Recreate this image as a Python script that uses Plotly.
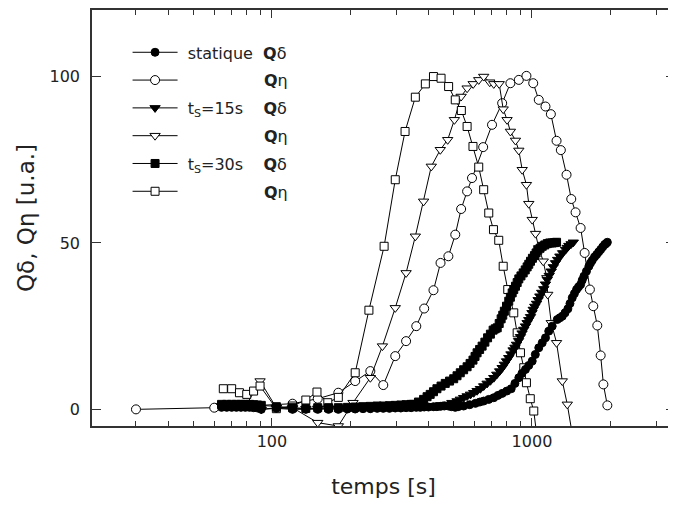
import plotly.graph_objects as go

# ---- statique ----
t_stat_d = [64, 67, 70, 73, 76, 79, 82, 85, 88, 91, 104, 120, 135, 150, 165, 180, 195, 209,
            224, 239, 254, 268, 283, 298, 313, 328, 343, 359, 372, 385, 400, 418, 431, 445,
            460, 477, 490, 507, 520, 546, 576, 606, 630, 652, 682, 713, 740, 768, 800, 832,
            860, 890, 915, 944, 972, 1002, 1030, 1062, 1095, 1127, 1160, 1196, 1251, 1280,
            1308, 1340, 1374, 1400, 1428, 1456, 1484, 1510, 1538, 1560, 1584, 1620, 1655,
            1680, 1706, 1740, 1773, 1805, 1837, 1870, 1903, 1925, 1949]
q_stat_d = [0.6, 0.6, 0.6, 0.6, 0.6, 0.6, 0.6, 0.5, 0.4, 0.0, 0.3, 0.0, 0.0, 0.0, 0.0, 0.0, 0.1, 0.1,
            0.2, 0.2, 0.3, 0.3, 0.3, 0.4, 0.4, 0.5, 0.5, 0.6, 0.6, 0.7, 0.7, 0.8, 0.8, 0.9,
            1.0, 1.0, 0.8, 0.6, 0.8, 1.0, 1.4, 1.8, 2.2, 2.5, 3.0, 3.5, 4.2, 4.8, 5.5, 6.2,
            7.8, 9.5, 10.8, 12.0, 13.2, 14.5, 16.5, 18.5, 20.0, 21.5, 23.5, 25.0, 27.0, 27.5,
            28.0, 29.0, 30.2, 31.8, 33.5, 34.8, 36.0, 36.8, 37.5, 38.8, 40.0, 41.5, 43.0,
            44.0, 44.8, 45.8, 46.5, 47.3, 48.0, 48.8, 49.5, 49.8, 50.2]

t_stat_e = [30, 60, 120, 150, 180, 209, 239, 268, 298, 328, 359, 385, 418, 445, 477, 507, 534,
            563, 588, 649, 702, 768, 826, 890, 952, 1011, 1062, 1127, 1182, 1243, 1291, 1358,
            1416, 1471, 1538, 1594, 1670, 1721, 1783, 1837, 1882, 1949]
q_stat_e = [0.0, 0.5, 1.7, 3.2, 5.0, 8.5, 11.5, 7.3, 16.0, 20.5, 25.0, 30.3, 35.8, 44.0, 46.0,
            52.5, 60.2, 65.5, 69.5, 78.8, 85.5, 92.0, 98.0, 99.0, 100.2, 98.0, 93.0, 91.0,
            88.7, 80.7, 77.9, 70.5, 63.2, 59.2, 54.5, 47.0, 36.0, 31.0, 25.2, 16.2, 7.5, 1.2]

# ---- ts = 15 s ----
t_15_d = [64, 67, 70, 73, 76, 79, 82, 85, 88, 91, 104, 120, 135, 150, 165, 180, 195, 209, 224,
          239, 254, 268, 283, 298, 313, 328, 343, 359, 372, 385, 400, 417, 445, 471, 492, 515,
          530, 546, 563, 580, 597, 615, 633, 652, 672, 692, 713, 732, 751, 768, 783, 798,
          814, 830, 846, 860, 872, 888, 903, 916, 930, 944, 958, 972, 987, 1000, 1011, 1025,
          1041, 1056, 1072, 1090, 1110, 1127, 1145, 1165, 1186, 1208, 1232, 1255, 1280, 1312,
          1346, 1366, 1386, 1414, 1442]
q_15_d = [1.0, 1.0, 1.0, 1.0, 1.0, 1.0, 1.0, 0.9, 0.8, 0.0, 0.5, 0.2, 0.2, 0.3, 0.3, 0.3, 0.4, 0.5,
          0.5, 0.5, 0.6, 0.6, 0.7, 0.7, 0.8, 0.9, 0.9, 1.0, 1.0, 1.0, 1.0, 1.0, 1.3, 1.5, 2.0,
          2.5, 3.0, 3.5, 4.0, 4.5, 5.0, 5.6, 6.2, 7.0, 7.8, 8.6, 9.5, 10.5, 11.5, 12.5, 13.5,
          14.5, 15.5, 16.6, 17.8, 18.6, 19.5, 20.6, 21.8, 22.9, 24.0, 25.0, 26.0, 26.9, 27.8,
          29.0, 30.0, 30.9, 31.8, 32.9, 34.0, 35.1, 36.2, 37.6, 39.0, 40.2, 41.5, 42.8, 44.0,
          45.0, 46.0, 47.0, 48.0, 48.6, 49.2, 49.7, 50.2]

t_15_e = [70, 80, 90, 104, 120, 150, 180, 205, 239, 266, 298, 328, 356, 383, 410, 444, 474,
          503, 534, 563, 594, 624, 652, 688, 713, 748, 775, 802, 826, 864, 890, 917, 952, 972,
          1002, 1032, 1062, 1105, 1140, 1150, 1186, 1243, 1308, 1367, 1440]
q_15_e = [1.0, 1.5, 8.5, 0.5, 0.5, -4.0, -5.0, 2.0, 9.5, 19.0, 30.5, 41.0, 52.0, 62.5, 73.0,
          78.0, 81.0, 87.0, 94.0, 96.5, 97.8, 99.0, 100.0, 98.3, 97.8, 97.8, 90.2, 87.0, 83.5,
          80.8, 77.8, 72.0, 67.5, 61.8, 57.0, 52.8, 48.5, 44.5, 39.5, 34.5, 26.0, 20.0, 8.5,
          1.5, -9.0]

# ---- ts = 30 s ----
t_30_d = [64, 67, 70, 73, 76, 79, 82, 85, 88, 91, 104, 120, 135, 150, 165, 180, 195, 209, 224,
          239, 254, 268, 283, 298, 313, 328, 343, 350, 366, 383, 395, 406, 418, 431, 447, 464,
          482, 500, 515, 530, 546, 563, 578, 593, 604, 615, 629, 643, 659, 675, 692, 709, 722,
          735, 748, 761, 772, 783, 798, 814, 826, 839, 851, 864, 877, 890, 907, 925, 942, 958,
          972, 987, 1004, 1022, 1037, 1053, 1074, 1095, 1120, 1145, 1170, 1196, 1220, 1243]
q_30_d = [1.5, 1.5, 1.5, 1.5, 1.5, 1.5, 1.5, 1.4, 1.3, 1.2, 0.8, 0.5, 0.3, 0.5, 0.5, 0.5, 0.6, 0.7,
          0.8, 0.9, 1.0, 1.0, 1.1, 1.2, 1.3, 1.4, 1.5, 1.5, 2.2, 3.0, 3.8, 4.5, 5.3, 6.2, 7.0,
          7.8, 8.5, 9.2, 10.1, 11.0, 11.9, 12.8, 13.8, 14.8, 15.9, 17.0, 18.0, 19.0, 20.2, 21.5,
          22.6, 23.8, 24.2, 24.5, 25.8, 27.2, 28.3, 29.5, 31.0, 32.5, 33.7, 35.0, 36.0, 37.0,
          38.1, 39.2, 40.1, 41.0, 41.9, 42.8, 43.6, 44.5, 45.4, 46.2, 47.0, 47.8, 48.4, 49.0,
          49.4, 49.8, 50.0, 50.0, 50.1, 50.2]

t_30_e = [65, 70, 75, 80, 85, 90, 104, 120, 135, 149, 164, 180, 209, 236, 270, 298, 325, 356,
          389, 418, 447, 478, 507, 535, 563, 593, 624, 652, 682, 711, 745, 775, 807, 851, 877,
          903, 930, 952, 985, 1016, 1048]
q_30_e = [6.2, 6.2, 5.0, 4.5, 5.5, 7.0, 0.2, 1.0, 2.8, 5.2, 2.0, 3.6, 11.0, 29.8, 49.0, 69.0,
          83.5, 93.8, 97.8, 100.0, 99.5, 97.0, 93.0, 89.8, 85.0, 79.0, 72.8, 66.0, 59.0, 54.0,
          50.8, 43.0, 36.0, 29.0, 23.0, 17.0, 12.5, 8.0, 3.2, -0.5, -9.0]

NB = "\u00a0"
series = [
    # name, x, y, symbol, fill, size, legend rank
    (NB + "statique" + NB + " <b>Q</b>δ", t_stat_d, q_stat_d, "circle", "black", 8, 1),
    (NB * 16 + "<b>Q</b>η", t_stat_e, q_stat_e, "circle", "white", 9, 2),
    (NB + "t<sub>S</sub>=15s" + NB * 4 + "<b>Q</b>δ", t_15_d, q_15_d, "triangle-down", "black", 9, 3),
    (NB * 16 + "<b>Q</b>η", t_15_e, q_15_e, "triangle-down", "white", 9, 4),
    (NB + "t<sub>S</sub>=30s" + NB * 4 + "<b>Q</b>δ", t_30_d, q_30_d, "square", "black", 8, 5),
    (NB * 16 + "<b>Q</b>η", t_30_e, q_30_e, "square", "white", 8, 6),
]

fig = go.Figure()
# open symbols first so filled ones sit on top
for name, x, y, sym, fill, size, rank in sorted(series, key=lambda s: s[4] == "black"):
    fig.add_trace(go.Scatter(
        x=x, y=y, mode="lines+markers", name=name,
        legendgroup=str(rank), legendrank=rank,
        line=dict(color="black", width=1),
        marker=dict(symbol=sym, size=size, color=fill, line=dict(color="black", width=1)),
    ))

major_x = [100, 1000]
minor_x = [m * 10 ** e for e in (1, 2, 3) for m in range(2, 10) if 20 <= m * 10 ** e <= 3500]

# the page body adds an 8px margin, so the figure is sized to fill the rest of the window
fig.update_layout(
    width=668, height=497,
    margin=dict(l=84, r=1, t=2, b=79),
    paper_bgcolor="white", plot_bgcolor="white",
    font=dict(family="DejaVu Sans", size=16, color="#222"),
    showlegend=True,
    legend=dict(x=0.061, y=0.939, xanchor="left", yanchor="top",
                bgcolor="rgba(0,0,0,0)", itemwidth=45, tracegroupgap=4,
                font=dict(size=16, color="#222")),
    xaxis=dict(
        type="log", range=[1.308, 3.55], automargin=False,
        tickmode="array", tickvals=major_x, ticktext=["100", "1000"],
        ticks="inside", ticklen=8, tickcolor="#333", tickwidth=1.3,
        minor=dict(tickmode="array", tickvals=minor_x, ticks="inside", ticklen=5,
                   tickcolor="#333", tickwidth=1.3, showgrid=False),
        showline=True, linecolor="#333", linewidth=1.5, mirror="ticks",
        showgrid=False, zeroline=False, ticklabelstandoff=0,
        title=dict(text="temps [s]", font=dict(size=22), standoff=29),
    ),
    yaxis=dict(
        range=[-5, 120], tickvals=[0, 50, 100], automargin=False,
        ticks="inside", ticklen=9, tickcolor="#333", tickwidth=1.3,
        showline=True, linecolor="#333", linewidth=1.5, mirror="ticks",
        showgrid=False, zeroline=False, ticklabelstandoff=7,
        title=dict(text="Qδ, Qη [u.a.]", font=dict(size=23), standoff=8),
    ),
)

fig.write_html("out.html")
